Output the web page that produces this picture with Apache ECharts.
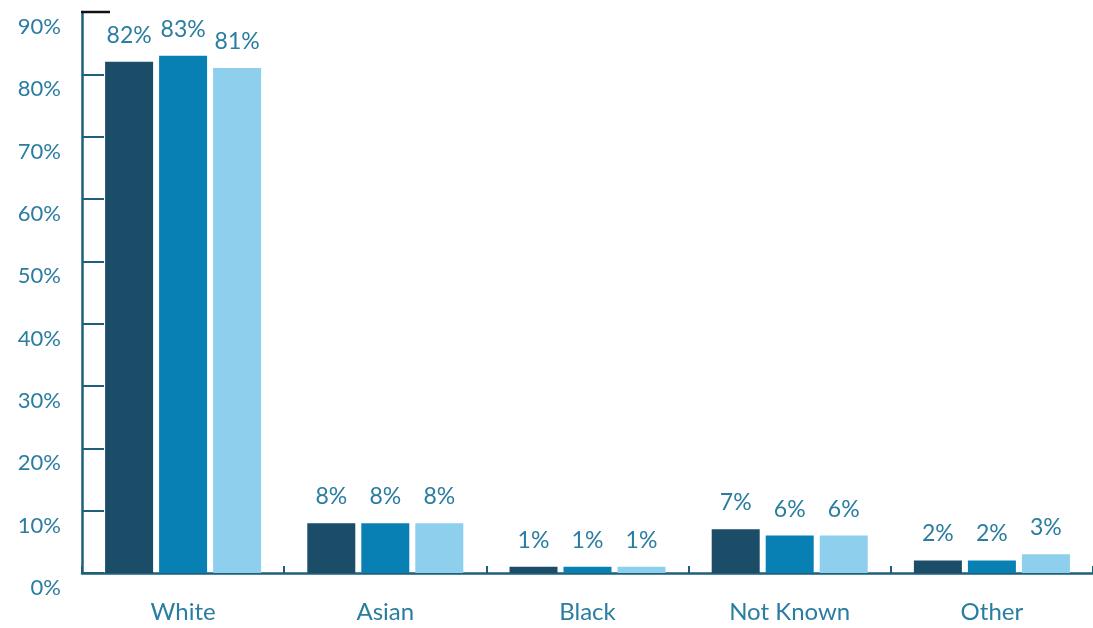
<!DOCTYPE html>
<html>
<head>
<meta charset="utf-8">
<script src="https://cdn.jsdelivr.net/npm/echarts@6/dist/echarts.min.js"></script>
<style>
  html, body { margin: 0; padding: 0; background: #ffffff; }
  #chart { width: 1093px; height: 628px; }
</style>
</head>
<body>
<div id="chart"></div>
<script>
// Ethnicity breakdown, three cohorts per group (percent)
const categories = ['White', 'Asian', 'Black', 'Not Known', 'Other'];
const cohortA = [82, 8, 1, 7, 2];
const cohortB = [83, 8, 1, 6, 2];
const cohortC = [81, 8, 1, 6, 3];
const yTicks = [0, 10, 20, 30, 40, 50, 60, 70, 80, 90];

const colors = ['#1b4d69', '#0980b4', '#8dcfec'];
const textColor = '#2a7da0';
const axisColor = '#1e5f7c';
const fontFamily = 'Lato, "Open Sans", sans-serif';
const gridLeft = 82;

const chart = echarts.init(document.getElementById('chart'));

function barSeries(data, color) {
  return {
    type: 'bar',
    data: data,
    barWidth: 48,
    barGap: '12.5%',
    itemStyle: { color: color },
    label: {
      show: true,
      position: 'top',
      distance: 15,
      formatter: '{c}%',
      color: textColor,
      fontSize: 23,
      fontFamily: fontFamily
    }
  };
}

chart.setOption({
  animation: false,
  backgroundColor: '#ffffff',
  grid: { left: gridLeft, top: 12, width: 1013, bottom: 55, containLabel: false },
  xAxis: {
    type: 'category',
    data: categories,
    boundaryGap: true,
    axisLine: { lineStyle: { color: axisColor, width: 2.5 } },
    axisTick: { show: true, inside: true, length: 7, alignWithLabel: false,
                lineStyle: { color: axisColor, width: 2 } },
    axisLabel: { color: textColor, fontSize: 24, fontFamily: fontFamily, margin: 27 }
  },
  yAxis: {
    type: 'value',
    min: yTicks[0],
    max: yTicks[yTicks.length - 1],
    interval: 10,
    splitLine: { show: false },
    axisLine: { show: true, lineStyle: { color: axisColor, width: 2.5 } },
    axisTick: { show: true, inside: true, length: 22, lineStyle: { color: axisColor, width: 2 } },
    axisLabel: {
      formatter: '{value}%',
      color: textColor,
      fontSize: 22,
      fontFamily: fontFamily,
      margin: 21,
      verticalAlign: 'top',
      lineHeight: 30
    }
  },
  series: [
    barSeries(cohortA, colors[0]),
    barSeries(cohortB, colors[1]),
    barSeries(cohortC, colors[2])
  ]
});

// Dark cap on the top of the value axis
const capY = chart.convertToPixel({ yAxisIndex: 0 }, yTicks[yTicks.length - 1]);
chart.setOption({
  graphic: [{
    type: 'line',
    shape: { x1: gridLeft - 1, y1: capY, x2: gridLeft + 28, y2: capY },
    style: { stroke: '#111111', lineWidth: 2.5 },
    z: 10
  }]
});
</script>
</body>
</html>
